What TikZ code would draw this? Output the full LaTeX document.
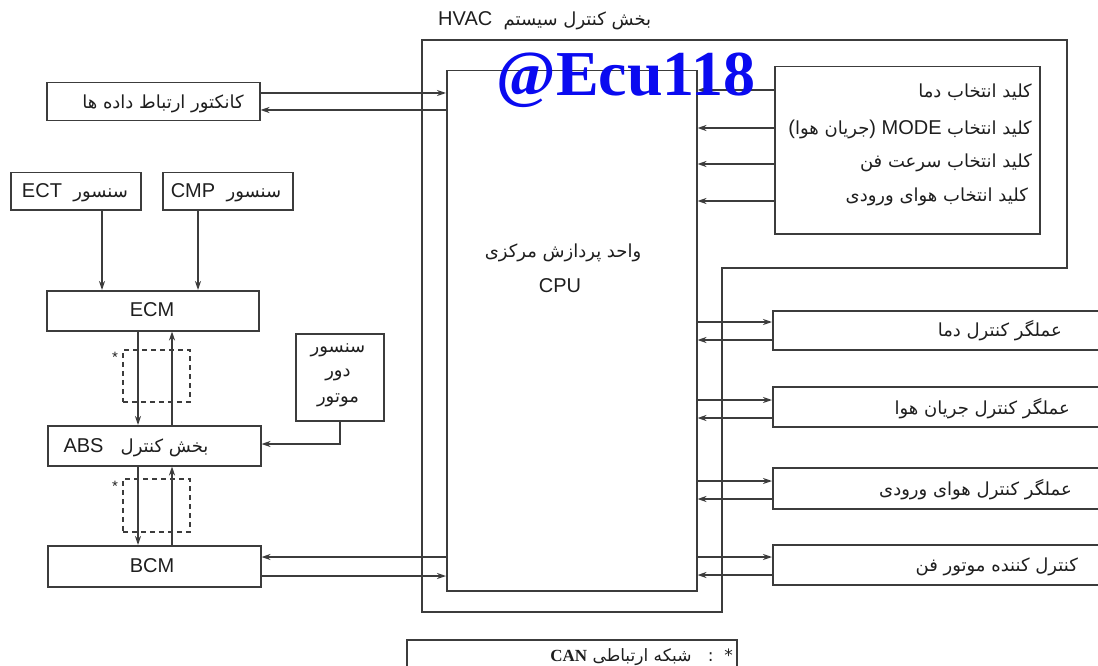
\documentclass[tikz,border=0pt]{standalone}
\usepackage{fontspec}
\setmainfont{Liberation Sans}
\newfontfamily\fa[Script=Arabic]{DejaVu Sans}
\newfontfamily\sero{Liberation Serif}
\TeXXeTstate=1
\usetikzlibrary{arrows.meta}
\definecolor{linec}{HTML}{3C3C3C}
\definecolor{txtc}{HTML}{1E1E1E}
\definecolor{wmblue}{HTML}{0A0AF0}
\newcommand{\fasz}{\fa\fontsize{18}{21}\selectfont}
\newcommand{\pfa}[1]{{\fasz\beginR #1\endR}}
\newcommand{\latw}[1]{{\normalfont\fontsize{20}{23}\selectfont #1}}
\begin{document}
\begin{tikzpicture}[x=1pt,y=-1pt,
  box/.style={draw=linec, line width=1.5pt, inner sep=0pt, anchor=north west},
  dbox/.style={box, line width=1.6pt, dash pattern=on 5pt off 4pt},
  conn/.style={draw=linec, line width=1.3pt, -{Stealth[length=9pt,width=6pt]}},
  frame/.style={draw=linec, line width=1.5pt},
  lbl/.style={inner sep=0pt, text=txtc},
  plbl/.style={lbl, yshift=-3pt},
  starl/.style={inner sep=0pt, text=txtc, font=\fontsize{15}{16}\selectfont}]
\useasboundingbox (0,0) rectangle (1098,666);
\clip (0,0) rectangle (1098,666);
% HVAC frame
\draw[frame] (422,40) -- (1067,40) -- (1067,268) -- (722,268) -- (722,612) -- (422,612) -- cycle;
\node[plbl, anchor=west] (title) at (438,18) {\pfa{بخش کنترل سیستم\ \ \latw{HVAC}}};
% CPU
\node[box, minimum width=250pt, minimum height=520pt] (cpu) at (446,70) {};
\node[plbl] (cputa) at (563,250) {\pfa{واحد پردازش مرکزی}};
\node[lbl] (cputb) at (560,286) {\latw{CPU}};
% switches
\node[box, minimum width=265pt, minimum height=167pt] (sw) at (774,66) {};
\node[plbl, anchor=east] (swa) at (1032,89) {\pfa{کلید انتخاب دما}};
\node[plbl, anchor=east] (swb) at (1032,126) {\latw{(}\pfa{جریان هوا}\latw{)}\ \ \latw{MODE}\ \ \pfa{کلید انتخاب}};
\node[plbl, anchor=east] (swc) at (1032,160) {\pfa{کلید انتخاب سرعت فن}};
\node[plbl, anchor=east] (swd) at (1028,194) {\pfa{کلید انتخاب هوای ورودی}};
\draw[conn] (sw.west |- 0,90) -- (cpu.east |- 0,90);
\draw[conn] (sw.west |- 0,128) -- (cpu.east |- 0,128);
\draw[conn] (sw.west |- 0,164) -- (cpu.east |- 0,164);
\draw[conn] (sw.west |- 0,201) -- (cpu.east |- 0,201);
% actuators
\node[box, minimum width=340pt, minimum height=39pt] (acta) at (772,310) {};
\node[box, minimum width=340pt, minimum height=40pt] (actb) at (772,386) {};
\node[box, minimum width=340pt, minimum height=41pt] (actc) at (772,467) {};
\node[box, minimum width=340pt, minimum height=40pt] (actd) at (772,544) {};
\node[plbl, anchor=east] (actat) at (1062,328) {\pfa{عملگر کنترل دما}};
\node[plbl, anchor=east] (actbt) at (1070,406) {\pfa{عملگر کنترل جریان هوا}};
\node[plbl, anchor=east] (actct) at (1072,487) {\pfa{عملگر کنترل هوای ورودی}};
\node[plbl, anchor=east] (actdt) at (1078,564) {\pfa{کنترل کننده موتور فن}};
\draw[conn] (cpu.east |- 0,322) -- (acta.west |- 0,322);
\draw[conn] (acta.west |- 0,340) -- (cpu.east |- 0,340);
\draw[conn] (cpu.east |- 0,400) -- (actb.west |- 0,400);
\draw[conn] (actb.west |- 0,418) -- (cpu.east |- 0,418);
\draw[conn] (cpu.east |- 0,481) -- (actc.west |- 0,481);
\draw[conn] (actc.west |- 0,499) -- (cpu.east |- 0,499);
\draw[conn] (cpu.east |- 0,557) -- (actd.west |- 0,557);
\draw[conn] (actd.west |- 0,575) -- (cpu.east |- 0,575);
% left side
\node[box, minimum width=213pt, minimum height=38pt] (conbox) at (46,82) {};
\node[plbl] (conboxt) at (163,101) {\pfa{کانکتور ارتباط داده ها}};
\draw[conn] (conbox.east |- 0,93) -- (cpu.west |- 0,93);
\draw[conn] (cpu.west |- 0,110) -- (conbox.east |- 0,110);
\node[box, minimum width=130pt, minimum height=37pt] (ect) at (10,172) {};
\node[plbl] (ectt) at (75,190) {\pfa{سنسور\ \ \latw{ECT}}};
\node[box, minimum width=130pt, minimum height=37pt] (cmp) at (162,172) {};
\node[plbl] (cmpt) at (226,190) {\pfa{سنسور\ \ \latw{CMP}}};
\node[box, minimum width=212pt, minimum height=40pt] (ecm) at (46,290) {};
\node[lbl] (ecmt) at (152,310) {\latw{ECM}};
\draw[conn] (ect.south -| 102,0) -- (ecm.north -| 102,0);
\draw[conn] (cmp.south -| 198,0) -- (ecm.north -| 198,0);
\node[dbox, minimum width=67pt, minimum height=52pt] (cana) at (122,349) {};
\node[starl] (stara) at (115,357) {*};
\node[box, minimum width=213pt, minimum height=40pt] (abs) at (47,425) {};
\node[plbl] (abst) at (136,445) {\pfa{بخش کنترل\ \ \ \latw{ABS}}};
\draw[conn] (ecm.south -| 138,0) -- (abs.north -| 138,0);
\draw[conn] (abs.north -| 172,0) -- (ecm.south -| 172,0);
\node[box, minimum width=88pt, minimum height=87pt] (sens) at (295,333) {};
\node[plbl] (sensa) at (338,347) {\pfa{سنسور}};
\node[plbl] (sensb) at (338,372) {\pfa{دور}};
\node[plbl] (sensc) at (338,397) {\pfa{موتور}};
\draw[conn] (sens.south -| 340,0) |- (abs.east |- 0,444);
\node[dbox, minimum width=67pt, minimum height=53pt] (canb) at (122,478) {};
\node[starl] (starb) at (115,486) {*};
\node[box, minimum width=213pt, minimum height=41pt] (bcm) at (47,545) {};
\node[lbl] (bcmt) at (152,566) {\latw{BCM}};
\draw[conn] (abs.south -| 138,0) -- (bcm.north -| 138,0);
\draw[conn] (bcm.north -| 172,0) -- (abs.south -| 172,0);
\draw[conn] (cpu.west |- 0,557) -- (bcm.east |- 0,557);
\draw[conn] (bcm.east |- 0,576) -- (cpu.west |- 0,576);
% legend
\node[box, minimum width=330pt, minimum height=50pt] (legend) at (406,639) {};
\node[plbl, anchor=east] (legendt) at (733,654) {{\fa\fontsize{17}{19}\selectfont\beginR *\ \ :\ \ \ شبکه ارتباطی\ {\sero\bfseries\fontsize{17}{19}\selectfont CAN}\endR}};
% watermark
\node[inner sep=0pt, text=wmblue, font=\sero\bfseries\fontsize{64}{70}\selectfont, anchor=base] (wm) at (626,96) {@Ecu118};
\end{tikzpicture}
\end{document}
